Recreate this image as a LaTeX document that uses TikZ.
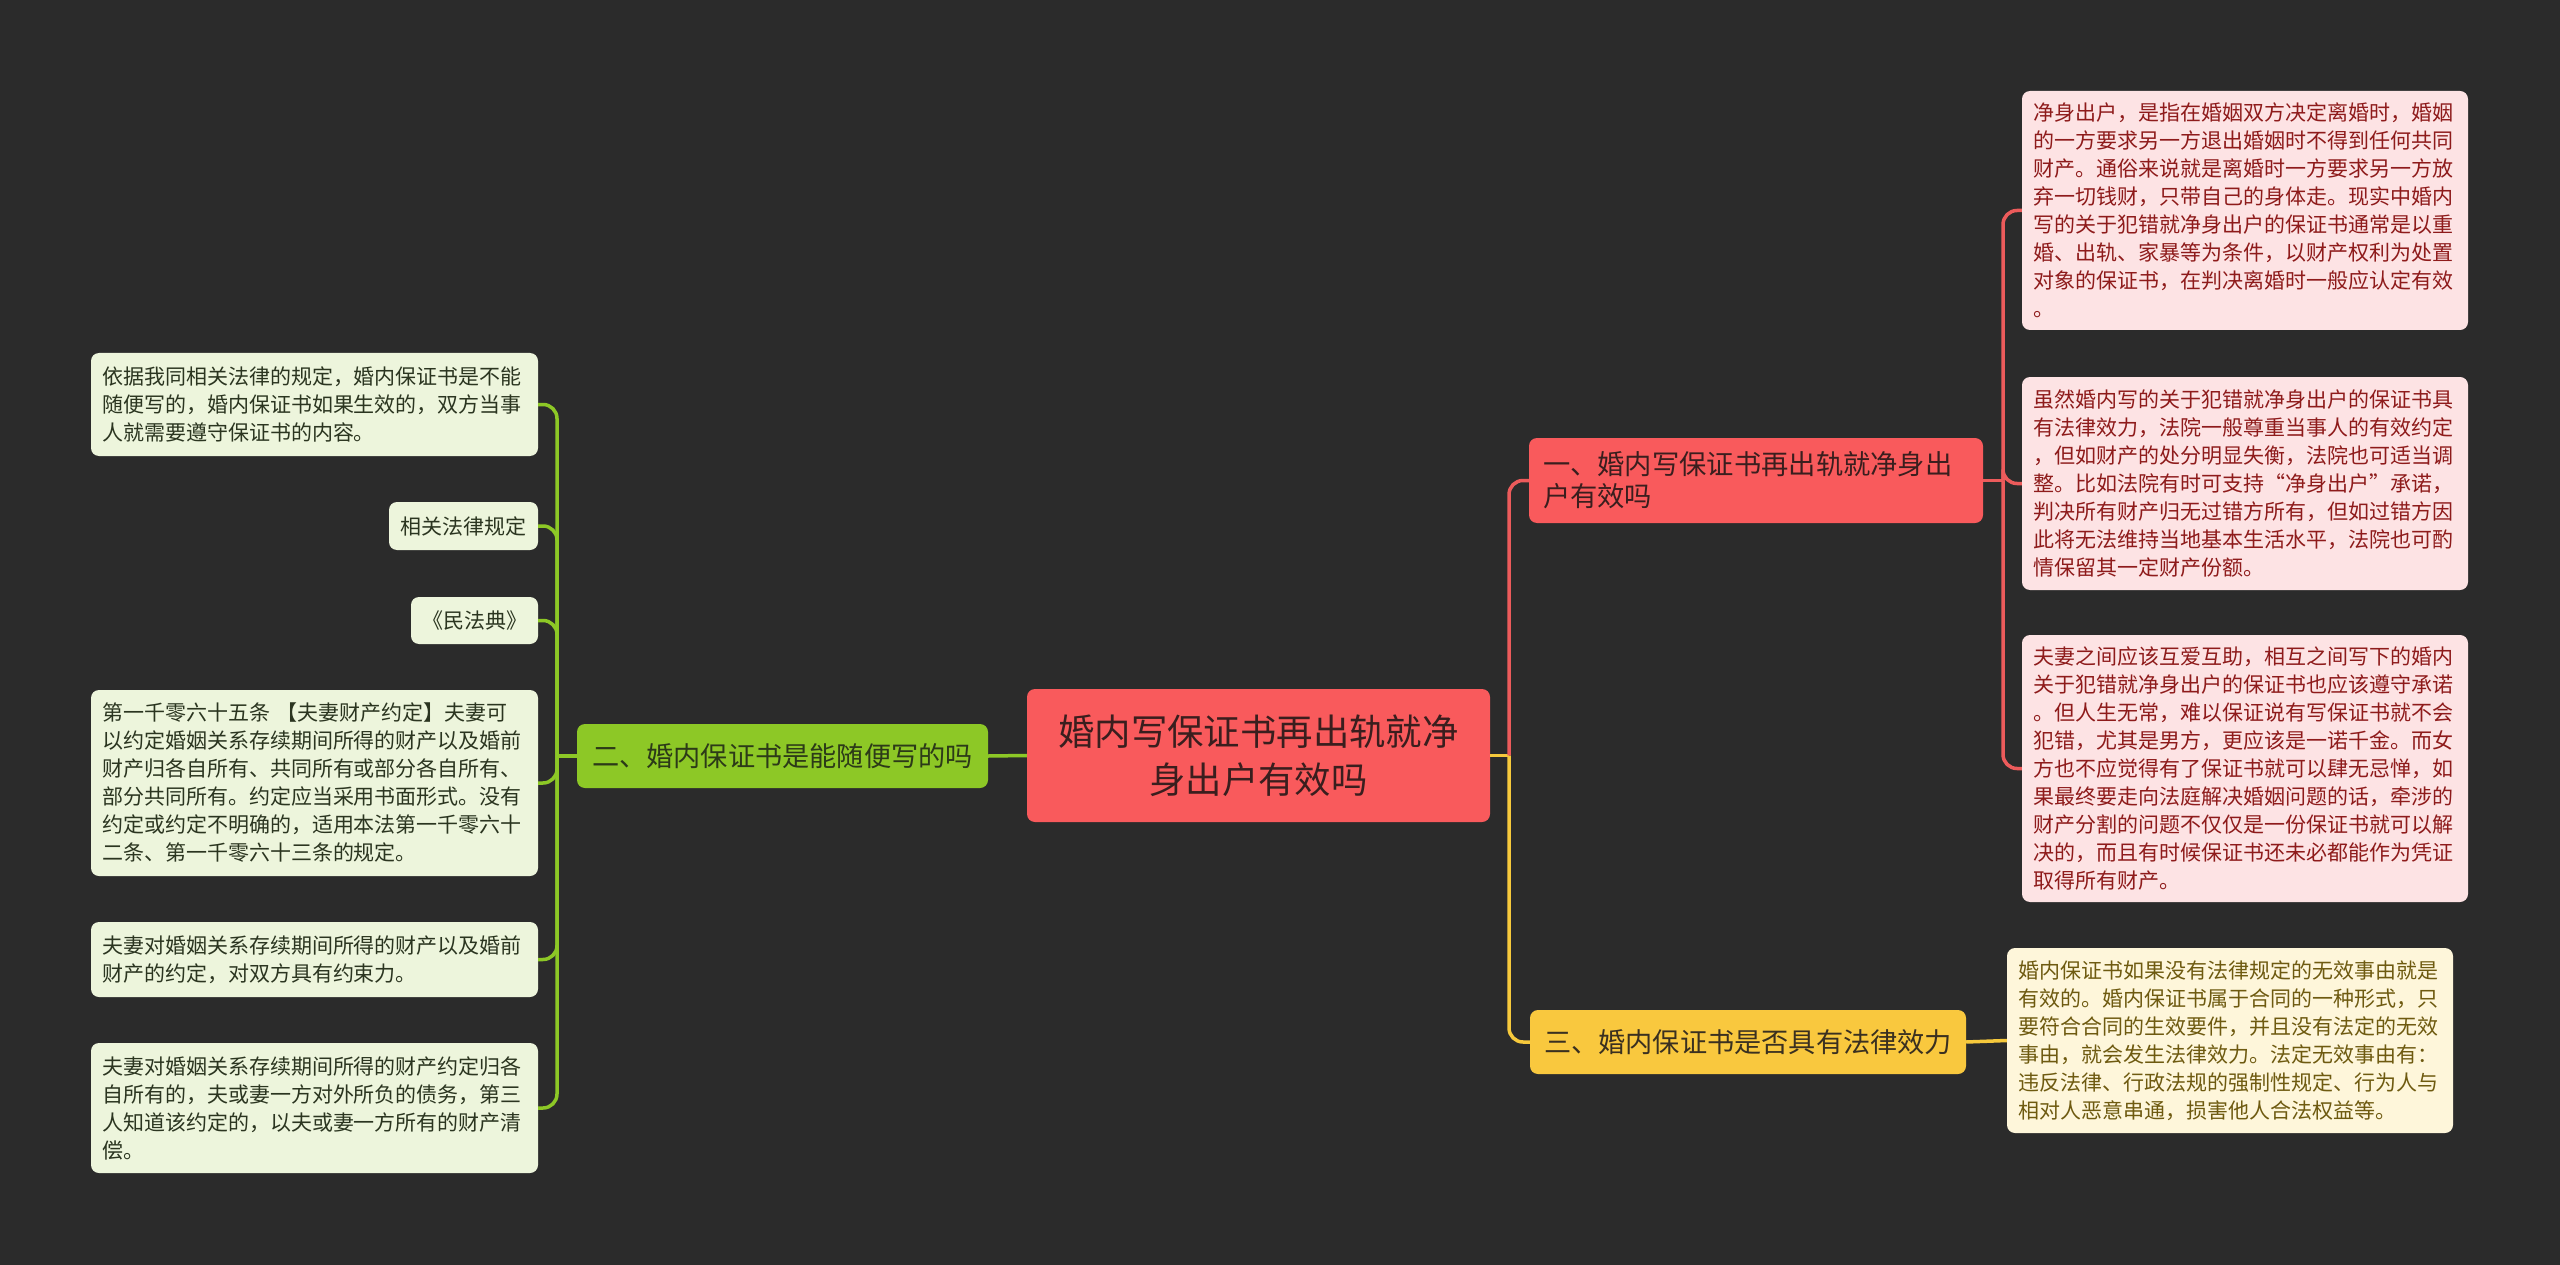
\documentclass[tikz,border=0pt]{standalone}
\usepackage{fontspec}
\setmainfont{Noto Sans CJK SC}
\definecolor{bg}{HTML}{2B2B2B}
\definecolor{redfill}{HTML}{F95A5C}
\definecolor{redtext}{HTML}{3A1E1E}
\definecolor{pinkfill}{HTML}{FDE3E4}
\definecolor{pinktext}{HTML}{8E1B1B}
\definecolor{greenfill}{HTML}{8DC826}
\definecolor{greentext}{HTML}{2C3A18}
\definecolor{lgreenfill}{HTML}{EDF5DC}
\definecolor{lgreentext}{HTML}{2B3520}
\definecolor{yellowfill}{HTML}{F9C83E}
\definecolor{yellowtext}{HTML}{3A3020}
\definecolor{lyellowfill}{HTML}{FEF6DA}
\definecolor{lyellowtext}{HTML}{6E5A10}
\definecolor{gline}{HTML}{8DC826}
\definecolor{rline}{HTML}{EC5B5B}
\definecolor{yline}{HTML}{F6C93C}
\begin{document}
\begin{tikzpicture}[x=1pt,y=-1pt,
  box/.style={rounded corners=8pt, inner ysep=0pt, inner xsep=11pt},
  leaffont/.style={font=\fontsize{21}{28}\selectfont},
  pinkleaf/.style={box, leaffont, fill=pinkfill, text=pinktext, align=left, text width=424pt},
  greenleaf/.style={box, leaffont, fill=lgreenfill, text=lgreentext, align=left, text width=425pt},
  yellowleaf/.style={box, leaffont, fill=lyellowfill, text=lyellowtext, align=left, text width=424pt},
  mainnode/.style={box, fill=redfill, text=redtext, align=center, font=\fontsize{36.4}{48}\selectfont, inner xsep=14pt},
  topicred/.style={box, fill=redfill, text=redtext, align=left, font=\fontsize{27.3}{32}\selectfont, inner xsep=14pt},
  topicgreen/.style={box, fill=greenfill, text=greentext, align=center, font=\fontsize{27.2}{32}\selectfont, inner xsep=10pt},
  topicyellow/.style={box, fill=yellowfill, text=yellowtext, align=center, font=\fontsize{27.2}{32}\selectfont, inner xsep=10pt},
  glink/.style={draw=gline, line width=3.5pt},
  rlink/.style={draw=rline, line width=3.5pt},
  ylink/.style={draw=yline, line width=3.5pt}
]
\useasboundingbox (0,0) rectangle (2560,1265);
\fill[bg] (0,0) rectangle (2560,1265);

% central
\node[mainnode, text width=435pt, minimum height=133pt] (c) at (1258.5,755.5)
  {婚内写保证书再出轨就净\\身出户有效吗};

% topics
\node[topicred, text width=426pt, minimum height=85pt] (n1) at (1756,480.5)
  {一、婚内写保证书再出轨就净身出\\户有效吗};
\node[topicgreen, text width=391pt, minimum height=64pt] (n2) at (782.5,756)
  {二、婚内保证书是能随便写的吗};
\node[topicyellow, text width=416pt, minimum height=64pt] (n3) at (1748,1042)
  {三、婚内保证书是否具有法律效力};

% right pink leaves
\node[pinkleaf, minimum height=239pt] (r1) at (2245,210.5)
  {净身出户，是指在婚姻双方决定离婚时，婚姻\\的一方要求另一方退出婚姻时不得到任何共同\\财产。通俗来说就是离婚时一方要求另一方放\\弃一切钱财，只带自己的身体走。现实中婚内\\写的关于犯错就净身出户的保证书通常是以重\\婚、出轨、家暴等为条件，以财产权利为处置\\对象的保证书，在判决离婚时一般应认定有效\\。};
\node[pinkleaf, minimum height=213pt] (r2) at (2245,483.5)
  {虽然婚内写的关于犯错就净身出户的保证书具\\有法律效力，法院一般尊重当事人的有效约定\\，但如财产的处分明显失衡，法院也可适当调\\整。比如法院有时可支持“净身出户”承诺，\\判决所有财产归无过错方所有，但如过错方因\\此将无法维持当地基本生活水平，法院也可酌\\情保留其一定财产份额。};
\node[pinkleaf, minimum height=267pt] (r3) at (2245,768.5)
  {夫妻之间应该互爱互助，相互之间写下的婚内\\关于犯错就净身出户的保证书也应该遵守承诺\\。但人生无常，难以保证说有写保证书就不会\\犯错，尤其是男方，更应该是一诺千金。而女\\方也不应觉得有了保证书就可以肆无忌惮，如\\果最终要走向法庭解决婚姻问题的话，牵涉的\\财产分割的问题不仅仅是一份保证书就可以解\\决的，而且有时候保证书还未必都能作为凭证\\取得所有财产。};

% yellow leaf
\node[yellowleaf, minimum height=185pt] (y1) at (2230,1040.5)
  {婚内保证书如果没有法律规定的无效事由就是\\有效的。婚内保证书属于合同的一种形式，只\\要符合合同的生效要件，并且没有法定的无效\\事由，就会发生法律效力。法定无效事由有：\\违反法律、行政法规的强制性规定、行为人与\\相对人恶意串通，损害他人合法权益等。};

% left green leaves
\node[greenleaf, minimum height=103pt] (l1) at (314.5,404.5)
  {依据我同相关法律的规定，婚内保证书是不能\\随便写的，婚内保证书如果生效的，双方当事\\人就需要遵守保证书的内容。};
\node[greenleaf, align=center, text width=127pt, minimum height=48pt] (l2) at (463.5,526)
  {相关法律规定};
\node[greenleaf, align=center, text width=105pt, minimum height=47pt] (l3) at (474.5,620.5)
  {《民法典》};
\node[greenleaf, minimum height=186pt] (l4) at (314.5,783)
  {第一千零六十五条 【夫妻财产约定】夫妻可\\以约定婚姻关系存续期间所得的财产以及婚前\\财产归各自所有、共同所有或部分各自所有、\\部分共同所有。约定应当采用书面形式。没有\\约定或约定不明确的，适用本法第一千零六十\\二条、第一千零六十三条的规定。};
\node[greenleaf, minimum height=75pt] (l5) at (314.5,959.5)
  {夫妻对婚姻关系存续期间所得的财产以及婚前\\财产的约定，对双方具有约束力。};
\node[greenleaf, minimum height=130pt] (l6) at (314.5,1108)
  {夫妻对婚姻关系存续期间所得的财产约定归各\\自所有的，夫或妻一方对外所负的债务，第三\\人知道该约定的，以夫或妻一方所有的财产清\\偿。};

% connectors
\coordinate (cj) at (1509,755.5);
\coordinate (gj) at (557,756);
\coordinate (rj) at (2003,480.5);

\draw[ylink] (c.east) -- (cj);
\draw[rlink, rounded corners=14pt] (cj) |- (n1.west);
\draw[ylink, rounded corners=14pt] (cj) |- (n3.west);
\draw[ylink] (n3.east) -- (y1.west);

\draw[glink] (c.west) -- (n2.east);
\draw[glink] (n2.west) -- (gj);
\foreach \n in {l1,l2,l3,l4,l5,l6}
  \draw[glink, rounded corners=14pt] (gj) |- (\n.east);

\draw[rlink] (n1.east) -- (rj);
\foreach \n in {r1,r2,r3}
  \draw[rlink, rounded corners=14pt] (rj) |- (\n.west);
\end{tikzpicture}
\end{document}
